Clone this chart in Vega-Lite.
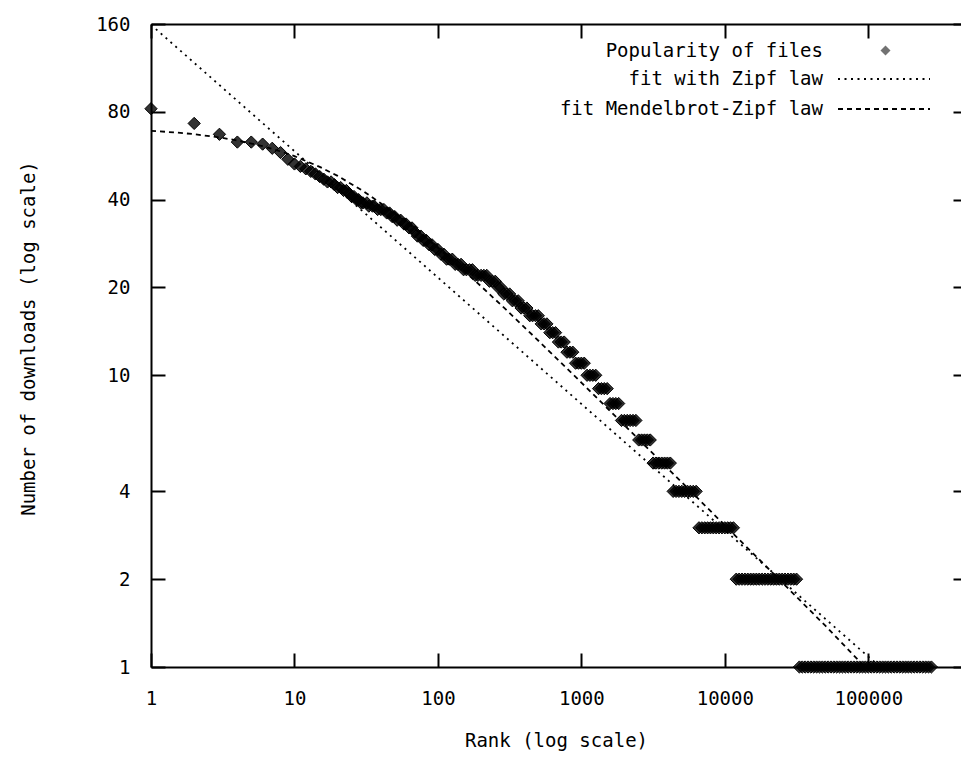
{
 "$schema": "https://vega.github.io/schema/vega-lite/v6.json",
 "width": 810,
 "height": 643,
 "autosize": {"type": "none"},
 "padding": {"left": 151, "top": 24, "right": 0, "bottom": 91},
 "background": "#ffffff",
 "config": {
  "view": {"stroke": null},
  "font": "DejaVu Sans Mono",
  "axis": {
   "labelFont": "DejaVu Sans Mono", "labelFontSize": 19, "labelColor": "#000",
   "titleFont": "DejaVu Sans Mono", "titleFontSize": 19, "titleFontWeight": "normal", "titleColor": "#000",
   "domainColor": "#000", "domainWidth": 2, "tickColor": "#000", "tickWidth": 2, "tickSize": -14,
   "grid": false
  },
  "legend": {"labelFont": "DejaVu Sans Mono", "labelFontSize": 19, "labelColor": "#000", "labelLimit": 600, "padding": 0}
 },
 "datasets": {
  "files": [
   {"rank": 1, "downloads": 82}, {"rank": 2, "downloads": 73}, {"rank": 3, "downloads": 67}, {"rank": 4, "downloads": 63},
   {"rank": 5, "downloads": 63}, {"rank": 6, "downloads": 62}, {"rank": 7, "downloads": 60}, {"rank": 8, "downloads": 58},
   {"rank": 9, "downloads": 55}, {"rank": 10, "downloads": 53}, {"rank": 11, "downloads": 52}, {"rank": 12, "downloads": 51},
   {"rank": 13, "downloads": 50}, {"rank": 14, "downloads": 49}, {"rank": 15, "downloads": 48}, {"rank": 16, "downloads": 47},
   {"rank": 17, "downloads": 46}, {"rank": 18, "downloads": 46}, {"rank": 19, "downloads": 45}, {"rank": 20, "downloads": 44},
   {"rank": 21, "downloads": 44}, {"rank": 22, "downloads": 43}, {"rank": 23, "downloads": 43}, {"rank": 24, "downloads": 42},
   {"rank": 25, "downloads": 41}, {"rank": 26, "downloads": 41}, {"rank": 27, "downloads": 40}, {"rank": 28, "downloads": 40},
   {"rank": 29, "downloads": 39}, {"rank": 30, "downloads": 39}, {"rank": 32, "downloads": 39}, {"rank": 33, "downloads": 38},
   {"rank": 35, "downloads": 38}, {"rank": 36, "downloads": 38}, {"rank": 38, "downloads": 37}, {"rank": 40, "downloads": 37},
   {"rank": 42, "downloads": 37}, {"rank": 44, "downloads": 36}, {"rank": 46, "downloads": 36}, {"rank": 48, "downloads": 35},
   {"rank": 50, "downloads": 35}, {"rank": 52, "downloads": 34}, {"rank": 55, "downloads": 34}, {"rank": 58, "downloads": 33},
   {"rank": 60, "downloads": 33}, {"rank": 63, "downloads": 32}, {"rank": 66, "downloads": 32}, {"rank": 69, "downloads": 31},
   {"rank": 72, "downloads": 30}, {"rank": 76, "downloads": 30}, {"rank": 79, "downloads": 29}, {"rank": 83, "downloads": 29},
   {"rank": 87, "downloads": 28}, {"rank": 91, "downloads": 28}, {"rank": 95, "downloads": 27}, {"rank": 100, "downloads": 27},
   {"rank": 105, "downloads": 26}, {"rank": 110, "downloads": 26}, {"rank": 115, "downloads": 25}, {"rank": 120, "downloads": 25},
   {"rank": 126, "downloads": 25}, {"rank": 132, "downloads": 24}, {"rank": 138, "downloads": 24}, {"rank": 145, "downloads": 24},
   {"rank": 151, "downloads": 23}, {"rank": 158, "downloads": 23}, {"rank": 166, "downloads": 23}, {"rank": 174, "downloads": 23},
   {"rank": 182, "downloads": 22}, {"rank": 190, "downloads": 22}, {"rank": 200, "downloads": 22}, {"rank": 209, "downloads": 22},
   {"rank": 219, "downloads": 22}, {"rank": 229, "downloads": 21}, {"rank": 240, "downloads": 21}, {"rank": 251, "downloads": 21},
   {"rank": 263, "downloads": 20}, {"rank": 275, "downloads": 20}, {"rank": 288, "downloads": 19}, {"rank": 302, "downloads": 19},
   {"rank": 316, "downloads": 19}, {"rank": 331, "downloads": 18}, {"rank": 347, "downloads": 18}, {"rank": 363, "downloads": 18},
   {"rank": 380, "downloads": 17}, {"rank": 398, "downloads": 17}, {"rank": 417, "downloads": 17}, {"rank": 437, "downloads": 16},
   {"rank": 457, "downloads": 16}, {"rank": 479, "downloads": 16}, {"rank": 501, "downloads": 16}, {"rank": 525, "downloads": 15},
   {"rank": 550, "downloads": 15}, {"rank": 575, "downloads": 15}, {"rank": 603, "downloads": 14}, {"rank": 631, "downloads": 14},
   {"rank": 661, "downloads": 14}, {"rank": 692, "downloads": 13}, {"rank": 724, "downloads": 13}, {"rank": 759, "downloads": 13},
   {"rank": 794, "downloads": 12}, {"rank": 832, "downloads": 12}, {"rank": 871, "downloads": 12}, {"rank": 912, "downloads": 11},
   {"rank": 955, "downloads": 11}, {"rank": 1000, "downloads": 11}, {"rank": 1047, "downloads": 11}, {"rank": 1096, "downloads": 10},
   {"rank": 1148, "downloads": 10}, {"rank": 1202, "downloads": 10}, {"rank": 1259, "downloads": 10}, {"rank": 1318, "downloads": 9},
   {"rank": 1380, "downloads": 9}, {"rank": 1445, "downloads": 9}, {"rank": 1514, "downloads": 9}, {"rank": 1585, "downloads": 8},
   {"rank": 1660, "downloads": 8}, {"rank": 1738, "downloads": 8}, {"rank": 1820, "downloads": 8}, {"rank": 1905, "downloads": 7},
   {"rank": 1995, "downloads": 7}, {"rank": 2089, "downloads": 7}, {"rank": 2188, "downloads": 7}, {"rank": 2291, "downloads": 7},
   {"rank": 2399, "downloads": 7}, {"rank": 2512, "downloads": 6}, {"rank": 2630, "downloads": 6}, {"rank": 2754, "downloads": 6},
   {"rank": 2884, "downloads": 6}, {"rank": 3020, "downloads": 6}, {"rank": 3162, "downloads": 5}, {"rank": 3311, "downloads": 5},
   {"rank": 3467, "downloads": 5}, {"rank": 3631, "downloads": 5}, {"rank": 3802, "downloads": 5}, {"rank": 3981, "downloads": 5},
   {"rank": 4169, "downloads": 5}, {"rank": 4365, "downloads": 4}, {"rank": 4571, "downloads": 4}, {"rank": 4786, "downloads": 4},
   {"rank": 5012, "downloads": 4}, {"rank": 5248, "downloads": 4}, {"rank": 5495, "downloads": 4}, {"rank": 5754, "downloads": 4},
   {"rank": 6026, "downloads": 4}, {"rank": 6310, "downloads": 4}, {"rank": 6607, "downloads": 3}, {"rank": 6918, "downloads": 3},
   {"rank": 7244, "downloads": 3}, {"rank": 7586, "downloads": 3}, {"rank": 7943, "downloads": 3}, {"rank": 8318, "downloads": 3},
   {"rank": 8710, "downloads": 3}, {"rank": 9120, "downloads": 3}, {"rank": 9550, "downloads": 3}, {"rank": 10000, "downloads": 3},
   {"rank": 10470, "downloads": 3}, {"rank": 10960, "downloads": 3}, {"rank": 11480, "downloads": 3}, {"rank": 12020, "downloads": 2},
   {"rank": 12590, "downloads": 2}, {"rank": 13180, "downloads": 2}, {"rank": 13800, "downloads": 2}, {"rank": 14450, "downloads": 2},
   {"rank": 15140, "downloads": 2}, {"rank": 15850, "downloads": 2}, {"rank": 16600, "downloads": 2}, {"rank": 17380, "downloads": 2},
   {"rank": 18200, "downloads": 2}, {"rank": 19050, "downloads": 2}, {"rank": 19950, "downloads": 2}, {"rank": 20890, "downloads": 2},
   {"rank": 21880, "downloads": 2}, {"rank": 22910, "downloads": 2}, {"rank": 23990, "downloads": 2}, {"rank": 25120, "downloads": 2},
   {"rank": 26300, "downloads": 2}, {"rank": 27540, "downloads": 2}, {"rank": 28840, "downloads": 2}, {"rank": 30200, "downloads": 2},
   {"rank": 31620, "downloads": 2}, {"rank": 33110, "downloads": 1}, {"rank": 34670, "downloads": 1}, {"rank": 36310, "downloads": 1},
   {"rank": 38020, "downloads": 1}, {"rank": 39810, "downloads": 1}, {"rank": 41690, "downloads": 1}, {"rank": 43650, "downloads": 1},
   {"rank": 45710, "downloads": 1}, {"rank": 47860, "downloads": 1}, {"rank": 50120, "downloads": 1}, {"rank": 52480, "downloads": 1},
   {"rank": 54950, "downloads": 1}, {"rank": 57540, "downloads": 1}, {"rank": 60260, "downloads": 1}, {"rank": 63100, "downloads": 1},
   {"rank": 66070, "downloads": 1}, {"rank": 69180, "downloads": 1}, {"rank": 72440, "downloads": 1}, {"rank": 75860, "downloads": 1},
   {"rank": 79430, "downloads": 1}, {"rank": 83180, "downloads": 1}, {"rank": 87100, "downloads": 1}, {"rank": 91200, "downloads": 1},
   {"rank": 95500, "downloads": 1}, {"rank": 100000, "downloads": 1}, {"rank": 104700, "downloads": 1}, {"rank": 109600, "downloads": 1},
   {"rank": 114800, "downloads": 1}, {"rank": 120200, "downloads": 1}, {"rank": 125900, "downloads": 1}, {"rank": 131800, "downloads": 1},
   {"rank": 138000, "downloads": 1}, {"rank": 144500, "downloads": 1}, {"rank": 151400, "downloads": 1}, {"rank": 158500, "downloads": 1},
   {"rank": 166000, "downloads": 1}, {"rank": 173800, "downloads": 1}, {"rank": 182000, "downloads": 1}, {"rank": 190500, "downloads": 1},
   {"rank": 199500, "downloads": 1}, {"rank": 208900, "downloads": 1}, {"rank": 218800, "downloads": 1}, {"rank": 229100, "downloads": 1},
   {"rank": 239900, "downloads": 1}, {"rank": 251200, "downloads": 1}, {"rank": 263000, "downloads": 1}, {"rank": 275400, "downloads": 1}
  ],
  "fits": [
   {"series": "fit with Zipf law", "rank": 1, "downloads": 159},
   {"series": "fit with Zipf law", "rank": 120700, "downloads": 1},
   {"series": "fit Mendelbrot-Zipf law", "rank": 1, "downloads": 68.87},
   {"series": "fit Mendelbrot-Zipf law", "rank": 1.5, "downloads": 67.93},
   {"series": "fit Mendelbrot-Zipf law", "rank": 2, "downloads": 67.05},
   {"series": "fit Mendelbrot-Zipf law", "rank": 3, "downloads": 65.36},
   {"series": "fit Mendelbrot-Zipf law", "rank": 4, "downloads": 63.8},
   {"series": "fit Mendelbrot-Zipf law", "rank": 6, "downloads": 61.0},
   {"series": "fit Mendelbrot-Zipf law", "rank": 8, "downloads": 58.54},
   {"series": "fit Mendelbrot-Zipf law", "rank": 10, "downloads": 56.37},
   {"series": "fit Mendelbrot-Zipf law", "rank": 15, "downloads": 51.81},
   {"series": "fit Mendelbrot-Zipf law", "rank": 20, "downloads": 48.24},
   {"series": "fit Mendelbrot-Zipf law", "rank": 30, "downloads": 42.87},
   {"series": "fit Mendelbrot-Zipf law", "rank": 50, "downloads": 35.99},
   {"series": "fit Mendelbrot-Zipf law", "rank": 70, "downloads": 31.65},
   {"series": "fit Mendelbrot-Zipf law", "rank": 100, "downloads": 27.35},
   {"series": "fit Mendelbrot-Zipf law", "rank": 150, "downloads": 22.94},
   {"series": "fit Mendelbrot-Zipf law", "rank": 200, "downloads": 20.18},
   {"series": "fit Mendelbrot-Zipf law", "rank": 300, "downloads": 16.75},
   {"series": "fit Mendelbrot-Zipf law", "rank": 500, "downloads": 13.16},
   {"series": "fit Mendelbrot-Zipf law", "rank": 700, "downloads": 11.2},
   {"series": "fit Mendelbrot-Zipf law", "rank": 1000, "downloads": 9.44},
   {"series": "fit Mendelbrot-Zipf law", "rank": 2000, "downloads": 6.74},
   {"series": "fit Mendelbrot-Zipf law", "rank": 5000, "downloads": 4.30},
   {"series": "fit Mendelbrot-Zipf law", "rank": 10000, "downloads": 3.06},
   {"series": "fit Mendelbrot-Zipf law", "rank": 20000, "downloads": 2.18},
   {"series": "fit Mendelbrot-Zipf law", "rank": 50000, "downloads": 1.388},
   {"series": "fit Mendelbrot-Zipf law", "rank": 94600, "downloads": 1.0}
  ]
 },
 "resolve": {"axis": {"x": "independent", "y": "independent"}},
 "layer": [
  {
   "data": {"name": "files"},
   "mark": {"type": "point", "filled": true, "fill": "#000", "opacity": 1, "fillOpacity": 0.8, "stroke": "#000", "strokeWidth": 1, "strokeOpacity": 1, "size": 150, "clip": false},
   "encoding": {
    "x": {"field": "rank", "type": "quantitative",
     "scale": {"type": "log", "domain": [1, 443000], "nice": false},
     "axis": {"orient": "bottom", "values": [1, 10, 100, 1000, 10000, 100000], "format": "d", "labelPadding": 36, "labelBaseline": "top",
      "title": "Rank (log scale)", "titleX": 405, "titleY": 73, "titleBaseline": "middle", "titleAnchor": "middle", "labelFlush": false, "labelOverlap": false}},
    "y": {"field": "downloads", "type": "quantitative",
     "scale": {"type": "log", "domain": [1, 160], "nice": false},
     "axis": {"orient": "left", "values": [1, 2, 4, 10, 20, 40, 80, 160], "format": "d", "labelPadding": 35, "labelAlign": "right", "labelBaseline": "middle",
      "title": "Number of downloads (log scale)", "titleX": -123, "titleY": 314, "titleAngle": -90, "titleBaseline": "middle", "titleAlign": "center", "labelFlush": false, "labelOverlap": false}},
    "shape": {"datum": "Popularity of files", "scale": {"range": ["diamond"]},
     "legend": {"orient": "none", "legendX": 725, "legendY": 17, "title": null, "labelAlign": "right", "labelOffset": -72,
      "symbolSize": 100, "symbolOpacity": 0.55, "symbolFillColor": "#888", "symbolStrokeColor": "#000", "symbolStrokeWidth": 1}}
   }
  },
  {
   "data": {"name": "fits"},
   "mark": {"type": "line", "stroke": "#000", "strokeWidth": 1.8, "strokeCap": "butt", "clip": true},
   "encoding": {
    "x": {"field": "rank", "type": "quantitative",
     "scale": {"type": "log", "domain": [1, 443000], "nice": false},
     "axis": {"orient": "top", "values": [1, 10, 100, 1000, 10000, 100000], "labels": false, "title": null}},
    "y": {"field": "downloads", "type": "quantitative",
     "scale": {"type": "log", "domain": [1, 160], "nice": false},
     "axis": {"orient": "right", "values": [1, 2, 4, 10, 20, 40, 80, 160], "labels": false, "title": null, "domain": false, "tickSize": -8}},
    "strokeDash": {"field": "series", "type": "nominal",
     "scale": {"domain": ["fit with Zipf law", "fit Mendelbrot-Zipf law"], "range": [[2, 4.5], [5, 4]]},
     "legend": {"orient": "none", "legendX": 722, "legendY": 44, "title": null, "labelAlign": "right", "labelOffset": -72, "rowPadding": 9,
      "symbolType": "M-4.6,0H4.6", "symbolSize": 400, "symbolStrokeColor": "#000", "symbolStrokeWidth": 1.8}}
   }
  }
 ]
}
